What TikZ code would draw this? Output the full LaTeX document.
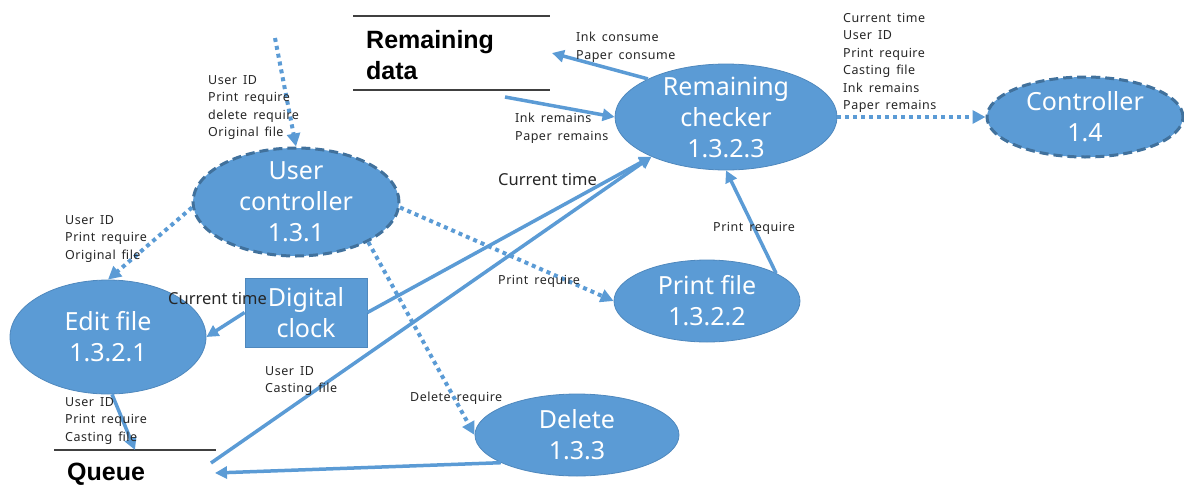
\documentclass[tikz,border=0pt]{standalone}
\usepackage{fontspec}
\setmainfont{Noto Sans}
\newfontfamily\lblfont{Noto Sans}[LetterSpace=4,WordSpace=1.6]
\newfontfamily\storefont{Liberation Sans}
\usetikzlibrary{shapes.geometric,arrows.meta}
\definecolor{nodefill}{HTML}{5B9BD5}
\definecolor{dashborder}{HTML}{41719C}
\definecolor{thinborder}{HTML}{4F88BD}
\definecolor{flow}{HTML}{5B9BD5}
\definecolor{storeline}{HTML}{404040}
\begin{document}
\begin{tikzpicture}[x=1pt,y=-1pt,
  proc/.style={ellipse, fill=nodefill, draw=thinborder, line width=0.8pt, inner sep=0},
  dproc/.style={proc, draw=dashborder, line width=3pt, dash pattern=on 9pt off 5pt},
  boxproc/.style={rectangle, fill=nodefill, draw=thinborder, line width=0.8pt, inner sep=0},
  ptext/.style={text=white, align=center, inner sep=0, font=\fontsize{25}{31}\selectfont},
  lbl/.style={font=\lblfont\fontsize{12.5}{17.5}\selectfont, align=left, inner sep=0, anchor=north west, text=black!85},
  midlbl/.style={font=\fontsize{16.5}{20}\selectfont, align=left, inner sep=0, anchor=north west, text=black!85},
  storetext/.style={font=\storefont\bfseries\fontsize{25}{31}\selectfont, align=left, inner sep=0, anchor=north west, text=black},
  storeln/.style={draw=storeline, line width=1.3pt},
  flowarrow/.style={draw=flow, line width=3.5pt, -{Triangle[length=12pt,width=12pt]}},
  dflow/.style={draw=flow, line width=4pt, dash pattern=on 4pt off 4pt, -{Triangle[length=13pt,width=13pt]}}
]
\useasboundingbox (0,0) rectangle (1184,493);

% stores
\draw[storeln] (353,16) -- (550,16);
\draw[storeln] (353,90) -- (550,90);
\node[storetext] (rd) at (366,30) {Remaining\\data};
\draw[storeln] (54,450) -- (216,450);
\node[storetext] (qu) at (67,463) {Queue};

% processes
\node[dproc, minimum width=206pt, minimum height=108pt] (uc) at (296,202) {};
\node[ptext] (uct) at (uc) {User\\controller\\1.3.1};
\node[proc, minimum width=196pt, minimum height=114pt] (ef) at (108,337) {};
\node[ptext] (eft) at (ef) {Edit file\\1.3.2.1};
\node[boxproc, minimum width=122pt, minimum height=69pt] (dc) at (306,312.5) {};
\node[ptext] (dct) at (dc) {Digital\\clock};
\node[proc, minimum width=222pt, minimum height=106pt] (rc) at (726,117) {};
\node[ptext] (rct) at (rc) {Remaining\\checker\\1.3.2.3};
\node[dproc, minimum width=196pt, minimum height=80pt] (ct) at (1085,117) {};
\node[ptext] (ctt) at (ct) {Controller\\1.4};
\node[proc, minimum width=186pt, minimum height=82pt] (pf) at (707,301) {};
\node[ptext] (pft) at (pf) {Print file\\1.3.2.2};
\node[proc, minimum width=204pt, minimum height=82pt] (dl) at (577,435) {};
\node[ptext] (dlt) at (dl) {Delete\\1.3.3};

% free ends
\coordinate (srcTop) at (275,38);
\coordinate (qIn) at (135,450);
\coordinate (qOut) at (211,463);
\coordinate (qDel) at (215,473);
\coordinate (rdIn) at (552,53);
\coordinate (rdOut) at (505,97);

% connectors
\draw[dflow] (srcTop) -- (uc.north);
\draw[dflow] (uc.183) -- (ef.north);
\draw[dflow] (uc.-3) -- (pf.west);
\draw[dflow] (uc.-29) -- (dl.west);
\draw[dflow] (rc.east) -- (ct.west);
\draw[flowarrow] (dc.west) -- (ef.east);
\draw[flowarrow] (dc.east) -- (rc.-152);
\draw[flowarrow] (qOut) -- (rc.-152);
\draw[flowarrow] (dl.200) -- (qDel);
\draw[flowarrow] (ef.-86) -- (qIn);
\draw[flowarrow] (rc.154) -- (rdIn);
\draw[flowarrow] (rdOut) -- (rc.west);
\draw[flowarrow] (pf.22) -- (rc.south);

% labels
\node[lbl] (l1) at (208,75) {User ID\\Print require\\delete require\\Original file};
\node[lbl] (l2) at (65,215) {User ID\\Print require\\Original file};
\node[midlbl] (l3) at (168,292) {Current time};
\node[lbl] (l4) at (265,366) {User ID\\Casting file};
\node[lbl] (l5) at (65,397) {User ID\\Print require\\Casting file};
\node[lbl] (l6) at (410,392) {Delete require};
\node[lbl] (l7) at (498,275) {Print require};
\node[midlbl] (l8) at (498,173) {Current time};
\node[lbl] (l9) at (515,113) {Ink remains\\Paper remains};
\node[lbl] (l10) at (576,32) {Ink consume\\Paper consume};
\node[lbl] (l11) at (713,222) {Print require};
\node[lbl] (l12) at (843,13) {Current time\\User ID\\Print require\\Casting file\\Ink remains\\Paper remains};
\end{tikzpicture}
\end{document}
